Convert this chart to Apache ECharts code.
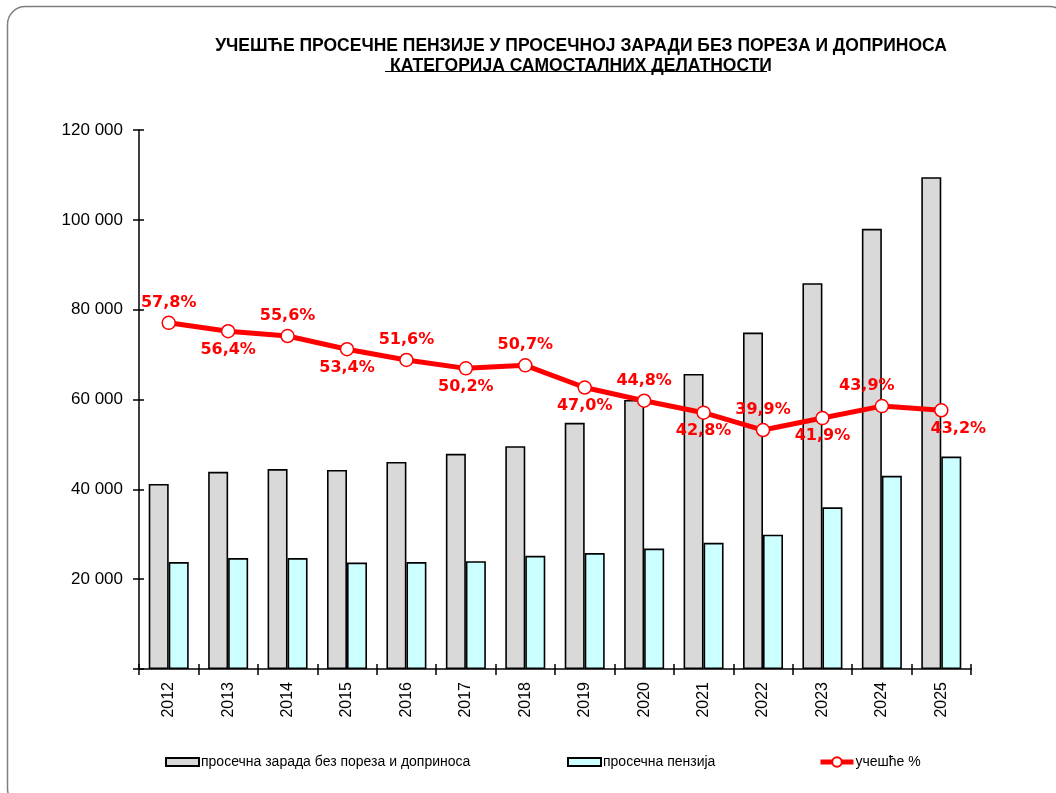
<!DOCTYPE html>
<html>
<head>
<meta charset="utf-8">
<script src="https://cdn.jsdelivr.net/npm/echarts@6/dist/echarts.min.js"></script>
<style>
  html, body { margin: 0; padding: 0; background: #fff; }
  #chart { width: 1056px; height: 793px; }
</style>
</head>
<body>
<div id="chart"></div>
<script>
const years = ['2012', '2013', '2014', '2015', '2016', '2017', '2018', '2019', '2020', '2021', '2022', '2023', '2024', '2025']
const salary = [41200, 43900, 44500, 44300, 46100, 47900, 49600, 54800, 59900, 65700, 74900, 85900, 98000, 109500]
const pension = [23800, 24700, 24700, 23700, 23800, 24000, 25200, 25800, 26800, 28100, 29900, 36000, 43000, 47300]
const share = [57.8, 56.4, 55.6, 53.4, 51.6, 50.2, 50.7, 47.0, 44.8, 42.8, 39.9, 41.9, 43.9, 43.2]
const yTicks = [0, 20000, 40000, 60000, 80000, 100000, 120000]

const titleLine1 = 'УЧЕШЋЕ ПРОСЕЧНЕ ПЕНЗИЈЕ У ПРОСЕЧНОЈ ЗАРАДИ БЕЗ ПОРЕЗА И ДОПРИНОСА'
const titleLine2 = 'КАТЕГОРИЈА САМОСТАЛНИХ ДЕЛАТНОСТИ'
const nameSalary = 'просечна зарада без пореза и доприноса'
const namePension = 'просечна пензија'
const nameShare = 'учешће %'

const titleSize = 17.5
const titleCenter = 576

// underline width for the second title line
const ctx = document.createElement('canvas').getContext('2d')
ctx.font = 'bold ' + titleSize + 'px "Liberation Sans"'
const w2 = ctx.measureText(titleLine2).width

const chart = echarts.init(document.getElementById('chart'))

const lineData = share.map((v, i) => {
  const label = { position: i % 2 === 0 ? 'top' : 'bottom', distance: i % 2 === 0 ? 5 : 3 }
  if (i === 12) label.offset = [-15, 0]
  if (i === 13) label.offset = [17, 0]
  return { value: v, label }
})

const legendText = { fontFamily: 'Liberation Sans', fontSize: 14, color: '#000', padding: [0, 0, 0, -3] }

const option = {
  animation: false,
  title: [
    { text: titleLine1, left: titleCenter, top: 32, textAlign: 'center',
      textStyle: { fontFamily: 'Liberation Sans', fontWeight: 'bold', fontSize: titleSize, color: '#000' } },
    { text: titleLine2, left: titleCenter, top: 52, textAlign: 'center',
      textStyle: { fontFamily: 'Liberation Sans', fontWeight: 'bold', fontSize: titleSize, color: '#000' } },
  ],
  graphic: [
    { type: 'rect', shape: { x: 7.5, y: 6.5, width: 1060, height: 800, r: 18 },
      style: { fill: 'none', stroke: '#7f7f7f', lineWidth: 1.5 }, silent: true },
    { type: 'line', shape: { x1: titleCenter - w2 / 2, y1: 71.5, x2: titleCenter + w2 / 2, y2: 71.5 },
      style: { stroke: '#000', lineWidth: 1.2 }, silent: true },
  ],
  legend: [
    { data: [nameSalary], left: 165, top: 755, padding: 0, itemWidth: 33, itemHeight: 8, icon: 'rect',
      textStyle: legendText },
    { data: [namePension], left: 567, top: 755, padding: 0, itemWidth: 33, itemHeight: 8, icon: 'rect',
      textStyle: legendText },
    { data: [nameShare], left: 818, top: 755, padding: 0, itemWidth: 33, itemHeight: 12,
      lineStyle: { width: 5 }, textStyle: legendText },
  ],
  grid: { left: 139, top: 130, width: 832, height: 539, containLabel: false },
  xAxis: [
    {
      type: 'category', data: years, position: 'bottom',
      axisLine: { lineStyle: { color: '#000', width: 1.5 } },
      axisTick: { show: true, length: 6, lineStyle: { color: '#000', width: 1.5 } },
      axisLabel: { rotate: 90, margin: 13, fontFamily: 'Liberation Sans', fontSize: 16, color: '#000' },
    },
    {
      type: 'category', data: years, position: 'bottom',
      axisLine: { show: false },
      axisTick: { show: true, inside: true, length: 5, lineStyle: { color: '#000', width: 1.5 } },
      axisLabel: { show: false },
    },
  ],
  yAxis: [
    {
      type: 'value', min: yTicks[0], max: yTicks[yTicks.length - 1], interval: yTicks[1] - yTicks[0],
      axisLine: { show: true, lineStyle: { color: '#000', width: 1.5 } },
      axisTick: { show: true, length: 6, lineStyle: { color: '#000', width: 1.5 } },
      splitLine: { show: false },
      axisLabel: {
        margin: 16, fontFamily: 'Liberation Sans', fontSize: 17, color: '#000',
        formatter: (v) => (v === 0 ? '' : String(v).replace(/\B(?=(\d{3})+(?!\d))/g, ' ')),
      },
    },
    { type: 'value', min: 0, max: 90, show: false },
    {
      type: 'value', min: yTicks[0], max: yTicks[yTicks.length - 1], interval: yTicks[1] - yTicks[0],
      position: 'left',
      axisLine: { show: false },
      axisTick: { show: true, inside: true, length: 5, lineStyle: { color: '#000', width: 1.5 } },
      axisLabel: { show: false },
      splitLine: { show: false },
    },
  ],
  series: [
    {
      name: nameSalary, type: 'bar', data: salary, barWidth: 20, barGap: '0%',
      itemStyle: { color: '#d9d9d9', borderColor: '#000', borderWidth: 1.6 },
    },
    {
      name: namePension, type: 'bar', data: pension, barWidth: 20, barGap: '0%',
      itemStyle: { color: '#ccffff', borderColor: '#000', borderWidth: 1.6 },
    },
    {
      name: nameShare, type: 'line', yAxisIndex: 1, data: lineData,
      symbol: 'circle', symbolSize: 13, z: 5,
      lineStyle: { color: '#ff0000', width: 5 },
      itemStyle: { color: '#fff', borderColor: '#ff0000', borderWidth: 1.5 },
      label: {
        show: true, color: '#ff0000', fontFamily: 'DejaVu Sans', fontWeight: 'bold', fontSize: 16,
        formatter: (p) => p.value.toFixed(1).replace('.', ',') + '%',
      },
    },
  ],
}

chart.setOption(option)
</script>
</body>
</html>
